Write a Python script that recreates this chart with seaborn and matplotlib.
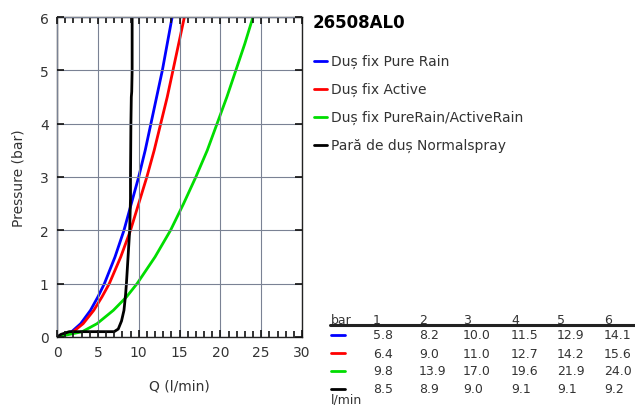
import matplotlib
matplotlib.use("Agg")
import matplotlib.pyplot as plt
from matplotlib.lines import Line2D
from matplotlib.ticker import MultipleLocator
import seaborn as sns
import pandas as pd

title = "26508AL0"
series_names = ["Duș fix Pure Rain", "Duș fix Active", "Duș fix PureRain/ActiveRain", "Pară de duș Normalspray"]
colors = ["#0000ff", "#ff0000", "#00dd00", "#000000"]

# curve points (pressure bar, flow l/min)
p_curve = [0, 0.1, 0.25, 0.5, 0.75, 1, 1.5, 2, 2.5, 3, 3.5, 4, 4.5, 5, 5.5, 6]
q_blue = [0, 1.8, 2.9, 4.1, 5.0, 5.8, 7.1, 8.2, 9.1, 10.0, 10.8, 11.5, 12.2, 12.9, 13.5, 14.1]
q_red = [0, 2.0, 3.2, 4.5, 5.5, 6.4, 7.8, 9.0, 10.0, 11.0, 11.9, 12.7, 13.5, 14.2, 14.9, 15.6]
q_green = [0, 3.1, 4.9, 6.9, 8.5, 9.8, 12.0, 13.9, 15.5, 17.0, 18.4, 19.6, 20.8, 21.9, 23.0, 24.0]
p_black = [0, 0.05, 0.1, 0.1, 0.15, 0.3, 0.5, 0.8, 1.0, 1.5, 2.0, 2.6, 3.0, 4.0, 4.5, 4.6, 5.0, 6.0]
q_black = [0, 0.5, 1.5, 7.0, 7.5, 7.9, 8.2, 8.4, 8.5, 8.7, 8.9, 9.0, 9.0, 9.05, 9.1, 9.15, 9.2, 9.2]

# table
table_bar = ["1", "2", "3", "4", "5", "6"]
table_rows = [
    ["5.8", "8.2", "10.0", "11.5", "12.9", "14.1"],
    ["6.4", "9.0", "11.0", "12.7", "14.2", "15.6"],
    ["9.8", "13.9", "17.0", "19.6", "21.9", "24.0"],
    ["8.5", "8.9", "9.0", "9.1", "9.1", "9.2"],
]

frames = []
for name, q, p in [(series_names[0], q_blue, p_curve), (series_names[1], q_red, p_curve),
                   (series_names[2], q_green, p_curve), (series_names[3], q_black, p_black)]:
    frames.append(pd.DataFrame({"Q": q, "P": p, "series": name}))
df = pd.concat(frames, ignore_index=True)

txt = "#333333"
tick_c = "#111111"
sns.set_theme(style="white")
plt.rcParams['font.family'] = ['DejaVu Sans']
plt.rcParams.update({
    "xtick.bottom": True, "xtick.top": True, "ytick.left": True, "ytick.right": True,
    "xtick.direction": "in", "ytick.direction": "in",
    "xtick.major.size": 5, "ytick.major.size": 5, "xtick.minor.size": 4,
    "xtick.major.width": 1.2, "ytick.major.width": 1.2, "xtick.minor.width": 1.2,
    "xtick.color": tick_c, "ytick.color": tick_c,
    "xtick.labelcolor": txt, "ytick.labelcolor": txt,
    "axes.axisbelow": False,
})

fig = plt.figure(figsize=(6.35, 4.06), dpi=100)
ax = fig.add_axes([57/635, 1-338/406, 245/635, 320/406])
sns.lineplot(data=df, x="Q", y="P", hue="series", palette=dict(zip(series_names, colors)),
             sort=False, estimator=None, units="series", linewidth=2, legend=False, ax=ax)
ax.set_xlim(0, 30)
ax.set_ylim(0, 6)
ax.xaxis.set_major_locator(MultipleLocator(5))
ax.yaxis.set_major_locator(MultipleLocator(1))
ax.xaxis.set_minor_locator(MultipleLocator(1))
ax.grid(True, which="major", color="#7a8294", linewidth=0.8, zorder=0)
for gl in ax.get_xgridlines() + ax.get_ygridlines():
    gl.set_zorder(0)
ax.tick_params(which="major", labelsize=10, pad=6)
for s in ax.spines.values():
    s.set_color("#222222")
    s.set_linewidth(1)
    s.set_visible(True)
ax.set_xlabel("Q (l/min)", color=txt, fontsize=10, labelpad=14)
ax.set_ylabel("Pressure (bar)", color=txt, fontsize=10, labelpad=10)

W, H = 635, 406
def fx(x): return x / W
def fy(y): return 1 - y / H

fig.text(fx(313), fy(23), title, fontsize=12, fontweight="bold", color="#000000", va="center")
for i, (name, c) in enumerate(zip(series_names, colors)):
    y = 62 + 28 * i
    fig.add_artist(Line2D([fx(314), fx(327)], [fy(y), fy(y)], color=c, linewidth=2))
    fig.text(fx(331), fy(y), name, fontsize=10, color=txt, va="center")

cols_x = [373, 419, 463, 511, 557, 604]
fig.text(fx(331), fy(320), "bar", fontsize=9, color=txt, va="center")
for x, b in zip(cols_x, table_bar):
    fig.text(fx(x), fy(320), b, fontsize=9, color=txt, va="center")
fig.add_artist(Line2D([fx(330), fx(635)], [fy(326), fy(326)], color="#222222", linewidth=2.2))
for r, (row, c) in enumerate(zip(table_rows, colors)):
    y = 336 + 18 * r
    fig.add_artist(Line2D([fx(331), fx(345)], [fy(y), fy(y)], color=c, linewidth=2))
    for x, v in zip(cols_x, row):
        fig.text(fx(x), fy(y), v, fontsize=9, color=txt, va="center")
fig.text(fx(331), fy(400), "l/min", fontsize=9, color=txt, va="center")

fig.savefig("out.png", dpi=100)
